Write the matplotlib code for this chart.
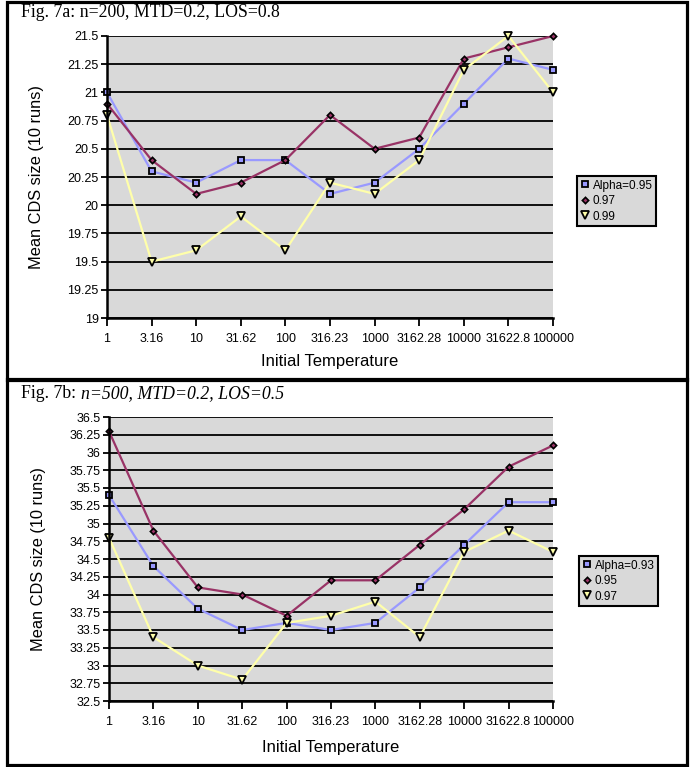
import numpy as np
import matplotlib.pyplot as plt
from matplotlib.patches import Rectangle

temps = ["1", "3.16", "10", "31.62", "100", "316.23", "1000", "3162.28",
         "10000", "31622.8", "100000"]

# Fig. 7a  (n=200, MTD=0.2, LOS=0.8)
a_labels = ["Alpha=0.95", "0.97", "0.99"]
a_095 = [21.0, 20.3, 20.2, 20.4, 20.4, 20.1, 20.2, 20.5, 20.9, 21.3, 21.2]
a_097 = [20.9, 20.4, 20.1, 20.2, 20.4, 20.8, 20.5, 20.6, 21.3, 21.4, 21.5]
a_099 = [20.8, 19.5, 19.6, 19.9, 19.6, 20.2, 20.1, 20.4, 21.2, 21.5, 21.0]

# Fig. 7b  (n=500, MTD=0.2, LOS=0.5)
b_labels = ["Alpha=0.93", "0.95", "0.97"]
b_093 = [35.4, 34.4, 33.8, 33.5, 33.6, 33.5, 33.6, 34.1, 34.7, 35.3, 35.3]
b_095 = [36.3, 34.9, 34.1, 34.0, 33.7, 34.2, 34.2, 34.7, 35.2, 35.8, 36.1]
b_097 = [34.8, 33.4, 33.0, 32.8, 33.6, 33.7, 33.9, 33.4, 34.6, 34.9, 34.6]

W, H = 695, 767
BLUE, RED, YELLOW = "#9999ff", "#993366", "#ffffaa"
GRAY = "#d9d9d9"

plt.rcParams["font.family"] = ["Liberation Sans", "DejaVu Sans"]

fig = plt.figure(figsize=(W / 100, H / 100), dpi=100)


def px_rect(l, t, r, b):
    """pixel box -> figure fraction [left, bottom, width, height]"""
    return [l / W, 1 - b / H, (r - l) / W, (b - t) / H]


def draw_panel(rect, series, labels, ylo, yhi, leg_xy):
    ax = fig.add_axes(rect)
    ax.set_facecolor(GRAY)
    x = np.arange(len(temps))
    styles = [
        dict(color=BLUE, marker="s", ms=5, mfc=BLUE, mec="black", mew=1.3),
        dict(color=RED, marker="D", ms=3.2, mfc=RED, mec="black", mew=1.2),
        dict(color=YELLOW, marker="v", ms=5.5, mfc=YELLOW, mec="black", mew=1.3),
    ]
    for vals, lab, st in zip(series, labels, styles):
        ax.plot(x, vals, lw=1.6, label=lab, zorder=3, clip_on=False, **st)

    ax.set_xlim(0, len(temps) - 1)
    ax.set_ylim(ylo, yhi)
    yt = np.arange(ylo, yhi + 0.001, 0.25)
    ax.set_yticks(yt)
    ax.set_yticklabels(["{:g}".format(v) for v in yt])
    ax.set_xticks(x)
    ax.set_xticklabels(temps)
    ax.grid(axis="y", color="black", lw=1.3, zorder=1)
    ax.set_axisbelow(True)
    for s in ["top", "right"]:
        ax.spines[s].set_visible(False)
    for s in ["left", "bottom"]:
        ax.spines[s].set_linewidth(1.8)
        ax.spines[s].set_zorder(4)
    ax.tick_params(axis="both", labelsize=9, width=1.3, colors="black")
    ax.tick_params(axis="y", length=4, pad=2)
    ax.tick_params(axis="x", length=6, pad=5)

    ax.set_ylabel("Mean CDS size (10 runs)", fontsize=11.8)
    ax.set_xlabel("Initial Temperature", fontsize=12)
    ax.yaxis.set_label_coords(-0.142, 0.5)

    leg = ax.legend(loc="upper left", bbox_to_anchor=(leg_xy[0] / W, 1 - leg_xy[1] / H),
                    bbox_transform=fig.transFigure, fontsize=8.5, frameon=True,
                    fancybox=False, handlelength=0.7, handletextpad=0.35,
                    borderpad=0.3, labelspacing=0.3, borderaxespad=0)
    for h in leg.legend_handles:
        h.set_linestyle("none")
    leg.get_frame().set_facecolor(GRAY)
    leg.get_frame().set_edgecolor("black")
    leg.get_frame().set_linewidth(1.5)
    leg.get_frame().set_alpha(1)
    return ax


ax1 = draw_panel(px_rect(107, 36, 553, 318), [a_095, a_097, a_099], a_labels,
                 19, 21.5, (577, 176))
ax1.xaxis.set_label_coords(0.5, -0.128)
ax2 = draw_panel(px_rect(109, 417, 553, 701), [b_093, b_095, b_097], b_labels,
                 32.5, 36.5, (579, 556))
ax2.xaxis.set_label_coords(0.5, -0.138)

# panel borders
for (l, t, r, b) in [(6.5, 1.5, 686.5, 379.5), (6.5, 379.5, 686.5, 765)]:
    fig.add_artist(Rectangle((l / W, 1 - b / H), (r - l) / W, (b - t) / H,
                             transform=fig.transFigure, fill=False,
                             edgecolor="black", lw=2.3))

serif = ["Liberation Serif", "DejaVu Serif"]
fig.text(21 / W, 1 - 17 / H, "Fig. 7a: n=200, MTD=0.2, LOS=0.8",
         family=serif, fontsize=12.8, va="baseline")
t2 = fig.text(21 / W, 1 - 398 / H, "Fig. 7b: ", family=serif, fontsize=12.8,
              va="baseline")
fig.add_artist(plt.Annotation("n=500, MTD=0.2, LOS=0.5", xy=(1, 0), xycoords=t2,
                              va="bottom", ha="left", family=serif,
                              fontsize=12.8, style="italic"))

fig.savefig("out.png", dpi=100)
